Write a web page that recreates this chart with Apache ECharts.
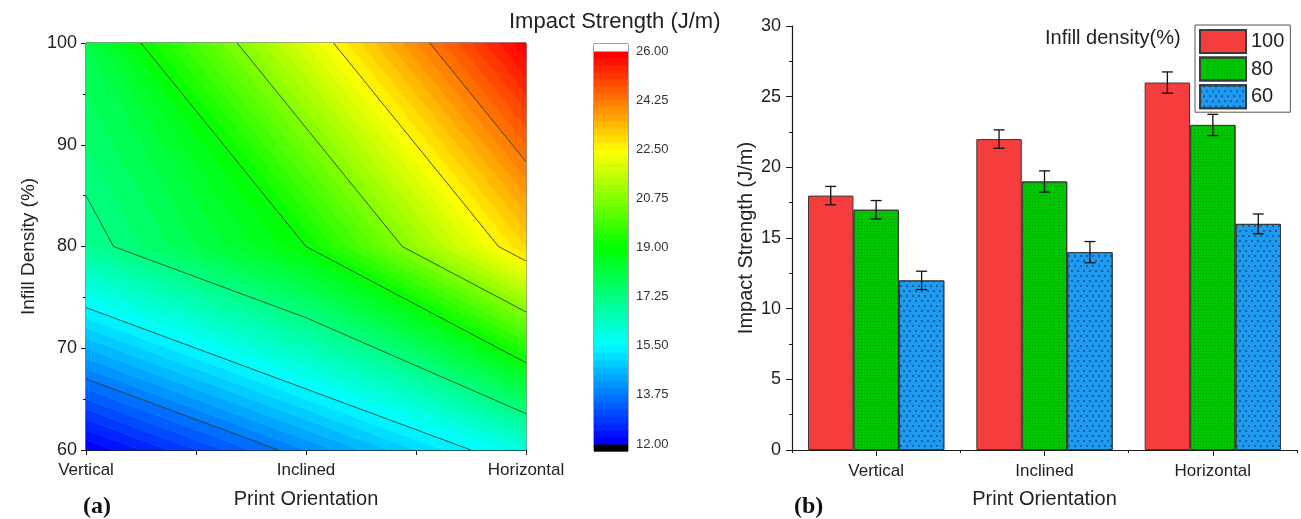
<!DOCTYPE html>
<html>
<head>
<meta charset="utf-8">
<script src="https://cdn.jsdelivr.net/npm/echarts@6/dist/echarts.min.js"></script>
<style>
  html, body { margin: 0; padding: 0; background: #fff; }
  #main { width: 1301px; height: 519px; }
</style>
</head>
<body>
<div id="main"></div>
<script>
// Impact strength by print orientation and infill density
const orientations = ['Vertical', 'Inclined', 'Horizontal'];
const densities = [60, 80, 100];
const densityNames = ['100', '80', '60'];

const strength100 = [18, 22, 26];
const strength80 = [17, 19, 23];
const strength60 = [12, 14, 16];

const error100 = [0.65, 0.65, 0.75];
const error80 = [0.65, 0.75, 0.75];
const error60 = [0.65, 0.75, 0.7];

// contour levels / colour scale
const levelTicks = [12, 13.75, 15.5, 17.25, 19, 20.75, 22.5, 24.25, 26];
const levelMin = 12;
const levelMax = 26;
const levelStep = 0.25;

const FONT = "'Liberation Sans', Arial, sans-serif";
const SERIF = "'Liberation Serif', 'Times New Roman', serif";
const TXT = '#222';

// ---------- contour geometry ----------
// grid of values: rows follow densities (60, 80, 100), columns follow orientations
const zGrid = [strength60, strength80, strength100];

function rainbow(f) {
  const stops = [[0, [0, 0, 255]], [0.25, [0, 255, 255]], [0.5, [0, 255, 0]], [0.75, [255, 255, 0]], [1, [255, 0, 0]]];
  f = Math.max(0, Math.min(1, f));
  for (let i = 1; i < stops.length; i++) {
    if (f <= stops[i][0]) {
      const a = stops[i - 1], b = stops[i];
      const t = (f - a[0]) / (b[0] - a[0]);
      const c = a[1].map((v, k) => Math.round(v + t * (b[1][k] - v)));
      return 'rgb(' + c.join(',') + ')';
    }
  }
  return 'rgb(255,0,0)';
}

const nBands = Math.round((levelMax - levelMin) / levelStep);
function bandColor(k) { return rainbow(k / (nBands - 1)); }

function clipPoly(poly, level, keepAbove) {
  const out = [];
  for (let k = 0; k < poly.length; k++) {
    const p = poly[k], q = poly[(k + 1) % poly.length];
    const pin = keepAbove ? p[2] >= level : p[2] <= level;
    const qin = keepAbove ? q[2] >= level : q[2] <= level;
    if (pin) out.push(p);
    if (pin !== qin) {
      const t = (level - p[2]) / (q[2] - p[2]);
      out.push([p[0] + t * (q[0] - p[0]), p[1] + t * (q[1] - p[1]), level]);
    }
  }
  return out;
}

function cellCorners(i, j) {
  return [
    [i, densities[j], zGrid[j][i]],
    [i + 1, densities[j], zGrid[j][i + 1]],
    [i + 1, densities[j + 1], zGrid[j + 1][i + 1]],
    [i, densities[j + 1], zGrid[j + 1][i]]
  ];
}

// filled band polygons
const bandPolys = [];
for (let i = 0; i < orientations.length - 1; i++) {
  for (let j = 0; j < densities.length - 1; j++) {
    const square = cellCorners(i, j);
    for (let k = 0; k < nBands; k++) {
      const lo = levelMin + k * levelStep, hi = lo + levelStep;
      let poly = clipPoly(square, lo, true);
      if (poly.length < 3) continue;
      poly = clipPoly(poly, hi, false);
      if (poly.length < 3) continue;
      bandPolys.push({ pts: poly, color: bandColor(k) });
    }
  }
}

// contour line segments at the labelled levels
const contourSegs = [];
levelTicks.slice(1, -1).forEach(function (L) {
  for (let i = 0; i < orientations.length - 1; i++) {
    for (let j = 0; j < densities.length - 1; j++) {
      const sq = cellCorners(i, j);
      const pts = [];
      for (let k = 0; k < 4; k++) {
        const p = sq[k], q = sq[(k + 1) % 4];
        if (p[2] === q[2]) continue;
        if ((p[2] - L) * (q[2] - L) <= 0) {
          const t = (L - p[2]) / (q[2] - p[2]);
          const pt = [p[0] + t * (q[0] - p[0]), p[1] + t * (q[1] - p[1])];
          if (!pts.some(r => Math.abs(r[0] - pt[0]) < 1e-9 && Math.abs(r[1] - pt[1]) < 1e-9)) pts.push(pt);
        }
      }
      if (pts.length === 2) contourSegs.push(pts);
    }
  }
});

// colour bar bands (with under/over range caps)
const barBands = [[levelMin - levelStep, levelMin, '#000']];
for (let k = 0; k < nBands; k++) barBands.push([levelMin + k * levelStep, levelMin + (k + 1) * levelStep, bandColor(k)]);
barBands.push([levelMax, levelMax + levelStep, '#fff']);

// ---------- bar chart ----------
const barColors = ['#F53D3D', '#00C800', '#1E9BEF'];
const barValues = [strength100, strength80, strength60];
const barErrors = [error100, error80, error60];
const catGapPct = 19;

const decals = [
  null,
  { symbol: 'rect', symbolSize: 0.8, color: 'rgba(0,90,0,0.5)', dashArrayX: [[1, 2], [0, 1.5, 1, 0.5]], dashArrayY: [1, 1.2] },
  { symbol: 'circle', symbolSize: 1, color: 'rgba(0,40,110,0.7)', dashArrayX: [[1.6, 3.4], [0, 2.5, 1.6, 0.9]], dashArrayY: [1.6, 2.4] }
];

const barSeries = densityNames.map(function (name, s) {
  const st = { color: barColors[s], borderColor: '#3a3a3a', borderWidth: 1 };
  if (decals[s]) st.decal = decals[s];
  return {
    name: name, type: 'bar', xAxisIndex: 2, yAxisIndex: 2,
    barGap: '0%', barCategoryGap: catGapPct + '%',
    itemStyle: st,
    data: barValues[s]
  };
});

const errorSeries = densityNames.map(function (name, s) {
  return {
    type: 'custom', xAxisIndex: 2, yAxisIndex: 2, z: 5,
    data: orientations.map((o, i) => [i, barValues[s][i], barErrors[s][i]]),
    renderItem: function (params, api) {
      const band = api.size([1, 0])[0];
      const bw = band * (1 - catGapPct / 100) / 3;
      const c = api.coord([api.value(0), api.value(1)]);
      const x = c[0] + (s - 1) * bw;
      const top = api.coord([api.value(0), api.value(1) + api.value(2)])[1];
      const bot = api.coord([api.value(0), api.value(1) - api.value(2)])[1];
      const cap = 5.5;
      const st = { stroke: '#111', lineWidth: 1.3 };
      return {
        type: 'group', children: [
          { type: 'line', shape: { x1: x, y1: top, x2: x, y2: bot }, style: st },
          { type: 'line', shape: { x1: x - cap, y1: top, x2: x + cap, y2: top }, style: st },
          { type: 'line', shape: { x1: x - cap, y1: bot, x2: x + cap, y2: bot }, style: st }
        ]
      };
    }
  };
});

const axisLineStyle = { color: '#1a1a1a', width: 1.2 };

const option = {
  animation: false,
  backgroundColor: '#fff',
  textStyle: { fontFamily: FONT },
  title: [
    { text: '(a)', left: 78, top: 490, textStyle: { fontFamily: SERIF, fontWeight: 'bold', fontSize: 24, color: '#111' } },
    { text: '(b)', left: 789, top: 490, textStyle: { fontFamily: SERIF, fontWeight: 'bold', fontSize: 24, color: '#111' } },
    { text: 'Impact Strength (J/m)', left: 504, top: 6, textStyle: { fontFamily: FONT, fontWeight: 'normal', fontSize: 22, color: TXT } },
    { text: 'Infill density(%)', left: 1040, top: 23, textStyle: { fontFamily: FONT, fontWeight: 'normal', fontSize: 20, color: TXT } }
  ],
  legend: {
    data: densityNames,
    orient: 'vertical', left: 1195, top: 25,
    itemWidth: 46, itemHeight: 23, itemGap: 2.6,
    padding: [4, 6, 3, 4],
    borderColor: '#555', borderWidth: 1,
    icon: 'rect',
    textStyle: { fontFamily: FONT, fontSize: 20, lineHeight: 22, color: TXT },
    selectedMode: false
  },
  grid: [
    { left: 86, top: 43, width: 440, height: 407, show: true, borderColor: '#222', borderWidth: 1 },
    { left: 594, top: 44, width: 34, height: 407, show: true, borderColor: '#444', borderWidth: 1 },
    { left: 792, top: 26, width: 505, height: 424 }
  ],
  xAxis: [
    {
      gridIndex: 0, type: 'value', min: 0, max: orientations.length - 1,
      name: 'Print Orientation', nameLocation: 'middle', nameGap: 39,
      nameTextStyle: { fontSize: 20, color: TXT },
      axisLine: { show: true, lineStyle: axisLineStyle },
      axisTick: { show: true, length: 5, lineStyle: { color: '#1a1a1a' }, customValues: [0, 0.5, 1, 1.5, 2] },
      axisLabel: { fontSize: 17, color: TXT, margin: 12, customValues: [0, 1, 2], formatter: v => orientations[Math.round(v)] },
      splitLine: { show: false }
    },
    { gridIndex: 1, type: 'value', min: 0, max: 1, show: false },
    {
      gridIndex: 2, type: 'category', data: orientations,
      name: 'Print Orientation', nameLocation: 'middle', nameGap: 39,
      nameTextStyle: { fontSize: 20, color: TXT },
      axisLine: { show: true, lineStyle: axisLineStyle },
      axisTick: { show: true, alignWithLabel: true, length: 6, lineStyle: { color: '#1a1a1a' } },
      axisLabel: { fontSize: 17, color: TXT, margin: 13 }
    },
    {
      gridIndex: 2, type: 'category', data: orientations, position: 'bottom',
      axisLine: { show: false },
      axisTick: { show: true, length: 3, lineStyle: { color: '#1a1a1a' } },
      axisLabel: { show: false }
    }
  ],
  yAxis: [
    {
      gridIndex: 0, type: 'value', min: 60, max: 100, interval: 10,
      name: 'Infill Density (%)', nameLocation: 'middle', nameGap: 48,
      nameTextStyle: { fontSize: 19, color: TXT },
      axisLine: { show: true, lineStyle: axisLineStyle },
      axisTick: { show: true, length: 5, lineStyle: { color: '#1a1a1a' } },
      minorTick: { show: true, splitNumber: 2, length: 3, lineStyle: { color: '#1a1a1a' } },
      axisLabel: { fontSize: 18, color: TXT, margin: 9 },
      splitLine: { show: false }
    },
    {
      gridIndex: 1, type: 'value', min: levelMin - levelStep, max: levelMax + levelStep, position: 'right',
      axisLine: { show: true, lineStyle: { color: '#444', width: 1 } },
      axisTick: { show: true, length: 4, lineStyle: { color: '#444' }, customValues: levelTicks },
      axisLabel: { fontSize: 13, color: '#333', margin: 8, customValues: levelTicks, formatter: v => v.toFixed(2) },
      splitLine: { show: false }
    },
    {
      gridIndex: 2, type: 'value', min: 0, max: 30, interval: 5,
      name: 'Impact Strength (J/m)', nameLocation: 'middle', nameGap: 36,
      nameTextStyle: { fontSize: 20, color: TXT },
      axisLine: { show: true, lineStyle: axisLineStyle },
      axisTick: { show: true, length: 6, lineStyle: { color: '#1a1a1a' } },
      minorTick: { show: true, splitNumber: 2, length: 3, lineStyle: { color: '#1a1a1a' } },
      axisLabel: { fontSize: 18, color: TXT, margin: 11 },
      splitLine: { show: false }
    }
  ],
  series: [
    {
      // filled contour bands
      type: 'custom', xAxisIndex: 0, yAxisIndex: 0, z: 1,
      data: bandPolys.map((p, i) => [i]),
      renderItem: function (params, api) {
        const band = bandPolys[params.dataIndex];
        const pts = band.pts.map(p => api.coord([p[0], p[1]]));
        return { type: 'polygon', shape: { points: pts }, style: { fill: band.color, stroke: band.color, lineWidth: 0.6 } };
      }
    },
    {
      // contour lines
      type: 'custom', xAxisIndex: 0, yAxisIndex: 0, z: 2,
      data: contourSegs.map((s, i) => [i]),
      renderItem: function (params, api) {
        const seg = contourSegs[params.dataIndex];
        const a = api.coord(seg[0]), b = api.coord(seg[1]);
        return { type: 'line', shape: { x1: a[0], y1: a[1], x2: b[0], y2: b[1] }, style: { stroke: 'rgba(35,45,35,0.8)', lineWidth: 1 } };
      }
    },
    {
      // colour bar
      type: 'custom', xAxisIndex: 1, yAxisIndex: 1, z: 1,
      data: barBands.map((b, i) => [i]),
      renderItem: function (params, api) {
        const b = barBands[params.dataIndex];
        const p1 = api.coord([0, b[1]]), p2 = api.coord([1, b[0]]);
        return { type: 'rect', shape: { x: p1[0], y: p1[1], width: p2[0] - p1[0], height: p2[1] - p1[1] + 0.5 }, style: { fill: b[2] } };
      }
    }
  ].concat(barSeries, errorSeries)
};

const chart = echarts.init(document.getElementById('main'), null, { renderer: 'canvas' });
chart.setOption(option);
</script>
</body>
</html>
